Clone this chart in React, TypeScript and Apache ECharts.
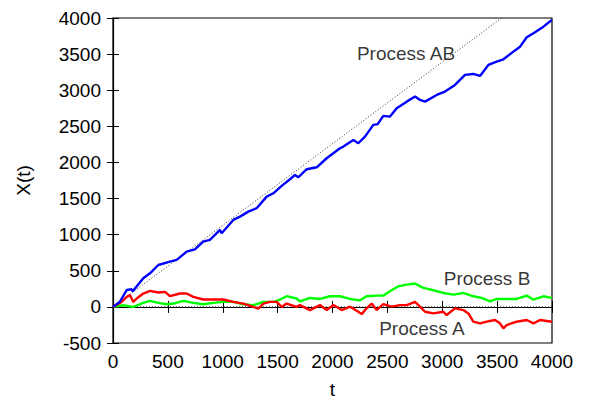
import React, { useEffect, useRef } from "react";
import * as echarts from "echarts";

const abT = [0, 63, 125, 170, 180, 276, 337, 413, 519, 580, 671, 746, 822, 883, 975, 990, 1096, 1157, 1233, 1309, 1400, 1461, 1537, 1613, 1658, 1689, 1765, 1856, 1947, 2068, 2099, 2190, 2235, 2296, 2372, 2412, 2463, 2524, 2585, 2676, 2752, 2797, 2843, 2949, 3025, 3116, 3207, 3283, 3344, 3420, 3496, 3557, 3648, 3709, 3770, 3831, 3922, 3998];
const abX = [0, 72, 234, 244, 215, 396, 465, 580, 626, 650, 765, 797, 903, 927, 1065, 1019, 1204, 1250, 1319, 1366, 1527, 1573, 1675, 1767, 1827, 1795, 1906, 1933, 2058, 2197, 2220, 2312, 2266, 2358, 2520, 2530, 2645, 2635, 2750, 2842, 2912, 2866, 2842, 2935, 2981, 3073, 3212, 3225, 3198, 3350, 3396, 3428, 3534, 3603, 3733, 3788, 3880, 3973];
const aT = [0, 79, 125, 155, 185, 216, 276, 337, 413, 474, 519, 611, 671, 732, 822, 913, 1005, 1096, 1187, 1278, 1324, 1370, 1430, 1491, 1537, 1582, 1673, 1703, 1795, 1886, 1947, 2008, 2084, 2160, 2235, 2266, 2311, 2357, 2402, 2463, 2539, 2615, 2676, 2752, 2797, 2843, 2919, 3010, 3040, 3116, 3192, 3238, 3283, 3344, 3405, 3481, 3526, 3557, 3587, 3678, 3770, 3831, 3891, 3998];
const aX = [0, 69, 139, 162, 69, 116, 185, 222, 199, 208, 148, 185, 185, 139, 102, 102, 102, 69, 46, 0, -23, 46, 69, 69, 0, 46, 0, 25, -44, 25, -44, 25, -44, 3, -67, -100, -20, 46, -44, 39, 3, 25, 25, 69, 3, -67, -90, -67, -113, -20, -44, -90, -205, -228, -205, -182, -228, -298, -251, -205, -182, -228, -182, -205];
const bT = [0, 91, 185, 276, 337, 413, 489, 550, 641, 732, 822, 913, 1005, 1096, 1187, 1278, 1370, 1461, 1522, 1582, 1673, 1703, 1795, 1886, 1977, 2068, 2160, 2250, 2311, 2402, 2463, 2524, 2600, 2676, 2752, 2828, 2919, 3010, 3101, 3192, 3283, 3359, 3435, 3496, 3587, 3678, 3770, 3831, 3922, 3998];
const bX = [0, 23, 0, 55, 83, 55, 37, 46, 83, 55, 37, 55, 69, 69, 37, 23, 69, 69, 102, 148, 116, 77, 124, 110, 147, 147, 110, 91, 147, 156, 156, 216, 285, 309, 323, 263, 230, 193, 170, 193, 147, 124, 77, 110, 110, 110, 156, 100, 147, 124];
const diagT = [0, 3540];
const diagX = [0, 4000];
const zeroT = [0, 4000];
const zeroX = [0, 0];
const labelNames = ["Process AB", "Process B", "Process A"];
const labelT = [2670, 3408, 2815];
const labelX = [3503, 400, -305];

const zip = (t: number[], x: number[]) => t.map((v, i) => [v, x[i]]);

export default function App() {
  const ref = useRef<HTMLDivElement>(null);
  useEffect(() => {
    if (!ref.current) return;
    const chart = echarts.init(ref.current, null, { renderer: "svg" });
    const font = "Liberation Sans, Arial, sans-serif";
    const tickStyle = { show: true, inside: true, length: 6, lineStyle: { color: "#000", width: 1 } };
    const plain = (v: number) => String(v);
    chart.setOption({
      animation: false,
      backgroundColor: "#fff",
      grid: {
        left: 113, top: 18, right: 38, bottom: 57, outerBoundsMode: "none", containLabel: false,
        show: true, borderColor: "#000", borderWidth: 1.2, backgroundColor: "transparent",
      },
      xAxis: [
        {
          type: "value", min: 0, max: 4000, interval: 500,
          name: "t", nameLocation: "middle", nameGap: 37,
          nameTextStyle: { fontFamily: font, fontSize: 19, lineHeight: 19, color: "#000" },
          axisLine: { show: true, lineStyle: { color: "#000", width: 1.2 } },
          axisTick: tickStyle,
          axisLabel: { fontFamily: font, fontSize: 19, color: "#000", margin: 9, formatter: plain },
          splitLine: { show: false },
        },
        {
          type: "value", min: 0, max: 4000, interval: 500, position: "top",
          axisLine: { show: false }, axisTick: tickStyle, axisLabel: { show: false }, splitLine: { show: false },
        },
      ],
      yAxis: [
        {
          type: "value", min: -500, max: 4000, interval: 500,
          name: "X(t)", nameLocation: "middle", nameGap: 80,
          nameTextStyle: { fontFamily: font, fontSize: 19, color: "#000" },
          axisLine: { show: true, lineStyle: { color: "#000", width: 1.2 } },
          axisTick: tickStyle,
          axisLabel: { fontFamily: font, fontSize: 19, color: "#000", margin: 12, formatter: plain },
          splitLine: { show: false },
        },
        {
          type: "value", min: -500, max: 4000, interval: 500, position: "right",
          axisLine: { show: false }, axisTick: tickStyle, axisLabel: { show: false }, splitLine: { show: false },
        },
      ],
      series: [
        {
          type: "line", data: zip(diagT, diagX), showSymbol: false, silent: true,
          lineStyle: { color: "#333", width: 1, type: [1, 2] },
        },
        {
          type: "line", data: zip(zeroT, zeroX), showSymbol: false, silent: true,
          lineStyle: { color: "#333", width: 1, type: [1, 2] },
        },
        { type: "line", name: "Process B", data: zip(bT, bX), showSymbol: false, lineStyle: { color: "#00ff00", width: 2.4 } },
        { type: "line", name: "Process A", data: zip(aT, aX), showSymbol: false, lineStyle: { color: "#ff0000", width: 2.4 } },
        { type: "line", name: "Process AB", data: zip(abT, abX), showSymbol: false, lineStyle: { color: "#0000ff", width: 2.4 } },
        {
          type: "scatter", symbolSize: 0, silent: true,
          data: labelNames.map((n, i) => ({ value: [labelT[i], labelX[i]], name: n })),
          label: {
            show: true, position: "inside", formatter: (p: any) => p.name,
            fontFamily: font, fontSize: 19, color: "#000", textBorderWidth: 0,
          },
        },
      ],
    });
    return () => chart.dispose();
  }, []);
  return <div ref={ref} style={{ position: "absolute", left: 0, top: 0, width: 590, height: 400 }} />;
}
